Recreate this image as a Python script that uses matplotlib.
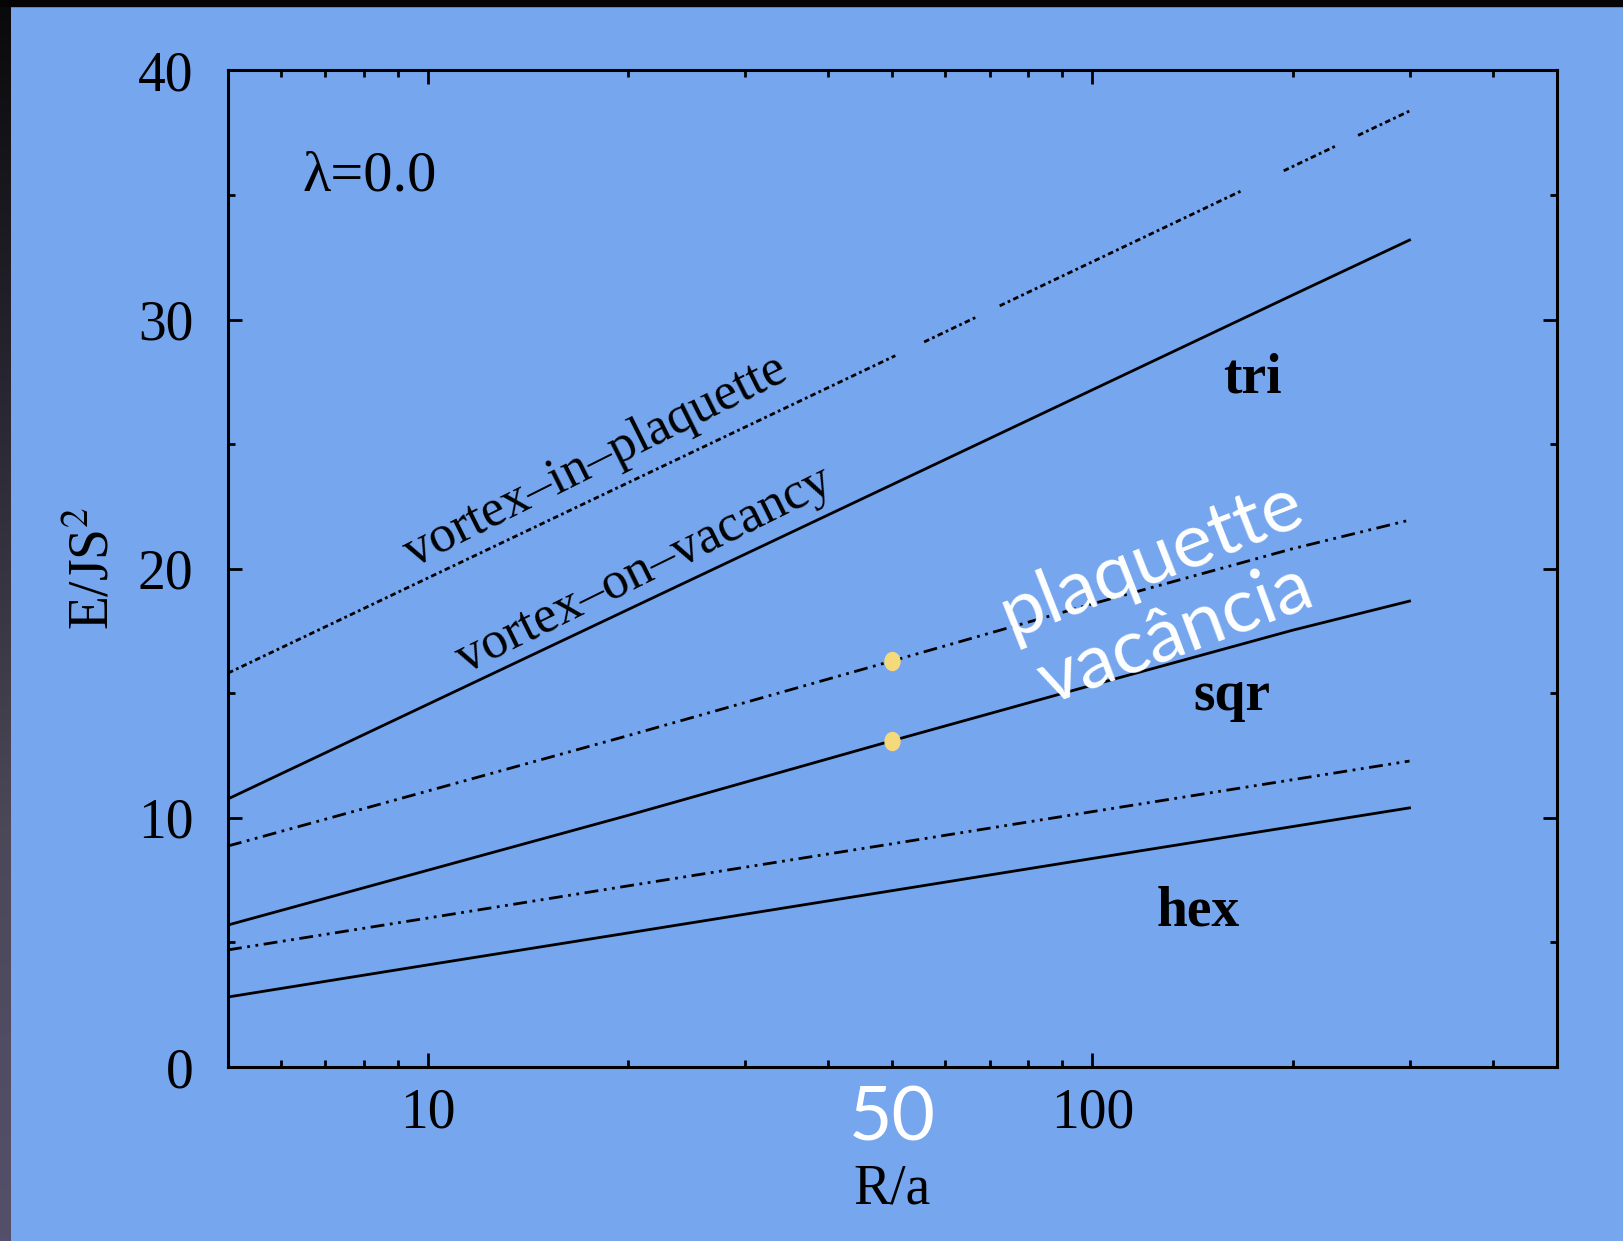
import numpy as np
import matplotlib
matplotlib.use("Agg")
import matplotlib.pyplot as plt
from matplotlib.path import Path
from matplotlib.patches import Rectangle
from matplotlib.colors import LinearSegmentedColormap
from matplotlib.ticker import FixedLocator, NullFormatter
import matplotlib.transforms as mtransforms

# vortex energies E/JS^2 against R/a (lambda = 0)
R = [5, 10, 20, 50, 100, 200, 300]

# triangular lattice, vortex in plaquette (the curve has a few missing stretches)
tri_plaq_R = [5, 10, 20, 50.5, np.nan, 55.8, 67, np.nan, 72.5, 100, 168, np.nan,
              194, 233, np.nan, 251, 300]
tri_plaq_E = [15.81, 19.63, 23.45, 28.55, np.nan, 29.10, 30.11, np.nan, 30.55, 32.32,
              35.18, np.nan, 35.97, 36.98, np.nan, 37.39, 38.37]
tri_vac_E = [10.76, 14.56, 18.36, 23.38, 27.18, 30.98, 33.19]
sqr_plaq_E = [8.87, 11.08, 13.30, 16.30, 18.59, 20.80, 21.95]
sqr_vac_E = [5.70, 7.90, 10.10, 13.10, 15.33, 17.53, 18.70]
hex_plaq_E = [4.70, 5.98, 7.27, 8.96, 10.25, 11.53, 12.28]
hex_vac_E = [2.81, 4.10, 5.38, 7.08, 8.37, 9.65, 10.40]

# highlighted points on the square lattice curves
dot_R = [50, 50]
dot_E = [16.30, 13.10]

bg = "#75A6EE"
plt.rcParams['font.family'] = ['Liberation Serif', 'DejaVu Serif']
plt.rcParams['mathtext.fontset'] = 'stix'

fig = plt.figure(figsize=(16.24, 12.41), dpi=100, facecolor=bg)
ax = fig.add_axes([0.1404, 0.1402, 0.8183, 0.8031])
ax.set_facecolor(bg)

dotted = (0, (2, 1.2, 1, 1.2))
dashdot = (0, (5, 2, 1, 2, 1, 2))
lw = 2.0

ax.plot(tri_plaq_R, tri_plaq_E, color='black', lw=lw, ls=dotted)
ax.plot(R, tri_vac_E, color='black', lw=lw)
ax.plot(R, sqr_plaq_E, color='black', lw=lw, ls=dashdot)
ax.plot(R, sqr_vac_E, color='black', lw=lw)
ax.plot(R, hex_plaq_E, color='black', lw=lw, ls=dashdot)
ax.plot(R, hex_vac_E, color='black', lw=lw)

# slightly tall oval marker for the highlighted points
oval = Path.unit_circle().transformed(mtransforms.Affine2D().scale(0.83, 1.0))
ax.plot(dot_R, dot_E, ls='none', marker=oval, ms=13, color='#F6D97B', zorder=5)

ax.set_xscale('log')
ax.set_xlim(5, 500)
ax.set_ylim(0, 40)

ax.xaxis.set_major_locator(FixedLocator([10, 100]))
ax.xaxis.set_minor_locator(FixedLocator([6, 7, 8, 9, 20, 30, 40, 50, 60, 70, 80, 90,
                                         200, 300, 400]))
ax.xaxis.set_major_formatter(plt.FuncFormatter(lambda v, p: f"{v:.0f}"))
ax.xaxis.set_minor_formatter(NullFormatter())
ax.yaxis.set_major_locator(FixedLocator([0, 10, 20, 30, 40]))
ax.yaxis.set_minor_locator(FixedLocator([5, 15, 25, 35]))

ax.tick_params(which='both', direction='in', top=True, right=True, width=2, colors='black')
ax.tick_params(which='major', length=10, labelsize=40)
ax.tick_params(which='minor', length=5)
ax.tick_params(axis='y', which='major', pad=25)
ax.tick_params(axis='x', which='major', pad=15)
for s in ax.spines.values():
    s.set_linewidth(2.2)

ax.set_xlabel('R/a', fontsize=40, labelpad=17)
ax.set_ylabel(r'E/JS$^2$', fontsize=40, labelpad=12)

# annotations
ax.text(0.0564, 0.894, 'λ=0.0', transform=ax.transAxes, fontsize=42, va='center', ha='left')
ax.text(0.771, 0.691, 'tri', transform=ax.transAxes, fontsize=40, weight='bold',
        va='center', ha='center')
ax.text(0.7555, 0.372, 'sqr', transform=ax.transAxes, fontsize=40, weight='bold',
        va='center', ha='center')
ax.text(0.730, 0.156, 'hex', transform=ax.transAxes, fontsize=40, weight='bold',
        va='center', ha='center')
ax.text(0.277, 0.608, 'vortex–in–plaquette', transform=ax.transAxes, fontsize=38,
        rotation=26.6, rotation_mode='anchor', va='center', ha='center')
ax.text(0.313, 0.4985, 'vortex–on–vacancy', transform=ax.transAxes, fontsize=38,
        rotation=26.3, rotation_mode='anchor', va='center', ha='center')

# white overlay notes
ax.text(0.695, 0.5095, 'plaquette', transform=ax.transAxes, fontsize=55, color='white',
        family='Lato', rotation=21.5, rotation_mode='anchor', va='center', ha='center')
ax.text(0.7126, 0.434, 'vacância', transform=ax.transAxes, fontsize=55, color='white',
        family='Lato', rotation=20.5, rotation_mode='anchor', va='center', ha='center')
trans = mtransforms.blended_transform_factory(ax.transData, ax.transAxes)
ax.text(50, -0.052, '50', transform=trans, fontsize=54, color='white', family='Lato',
        va='center', ha='center', clip_on=False)

# dark frame along the top and left edges
fig.add_artist(Rectangle((0, 1 - 6 / 1241), 1, 6 / 1241, transform=fig.transFigure,
                         color='#050505', zorder=10))
strip = fig.add_axes([0, 0, 11 / 1624, 1 - 6 / 1241])
strip.axis('off')
cmap = LinearSegmentedColormap.from_list('edge', ['#0a0a0c', '#2a2833', '#4c4858', '#55506a'])
strip.imshow(np.linspace(0, 1, 256).reshape(-1, 1), aspect='auto', cmap=cmap)

fig.savefig('out.png', dpi=100, facecolor=bg)
